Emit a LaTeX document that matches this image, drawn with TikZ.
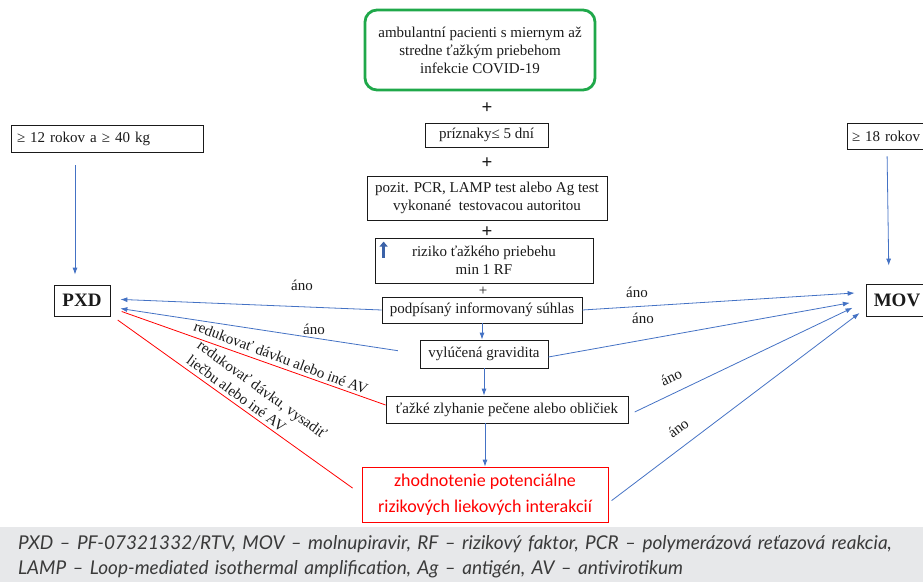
\documentclass[tikz,border=0pt]{standalone}
\usepackage{fontspec}
\setmainfont{Liberation Serif}
\newfontfamily\calibri{Carlito}
\newfontfamily\keyfont{Lato}
\usetikzlibrary{
  arrows.meta,
  positioning
}
\definecolor{flowInk}{HTML}{1A1A1A}
\definecolor{flowGreen}{HTML}{1FA84A}
\definecolor{flowBlue}{HTML}{4472C4}
\definecolor{flowNavy}{HTML}{3B62A8}
\definecolor{flowRed}{HTML}{FF0000}
\definecolor{flowBand}{HTML}{E7E8EA}
\definecolor{flowNote}{HTML}{3A3A3A}
\tikzset{
  every node/.style={font=\fontsize{15}{18}\selectfont, text=flowInk},
  flowbox/.style={
    draw=flowInk,
    line width=0.8pt,
    inner sep=2pt,
    align=center
  },
  entry/.style={
    flowbox,
    draw=flowGreen,
    line width=2.8pt,
    rounded corners=12pt
  },
  drug/.style={
    flowbox,
    font=\fontsize{19}{22}\selectfont\bfseries
  },
  review/.style={
    flowbox,
    draw=flowRed,
    text=flowRed,
    font=\calibri\fontsize{18}{26}\selectfont
  },
  plus/.style={font=\fontsize{19}{19}\selectfont\bfseries, inner sep=0pt},
  yes/.style={inner sep=0pt},
  warn/.style={inner sep=0pt, align=left},
  note/.style={
    fill=flowBand,
    text=flowNote,
    align=left,
    font=\keyfont\itshape\fontsize{19}{25}\selectfont
  },
  link/.style={
    -{Latex[length=7pt,width=5pt]},
    line width=0.8pt,
    draw=flowBlue
  },
  redlink/.style={
    line width=0.8pt,
    draw=flowRed
  }
}

\begin{document}
\begin{tikzpicture}[x=1pt,y=-1pt]
  \useasboundingbox (0,0) rectangle (923,581);
  \clip (0,0) rectangle (923,581);

  % central column
  \node[entry, minimum width=230pt, minimum height=80pt] (pat) at (480,50)
    {ambulantní pacienti s miernym až\\stredne ťažkým priebehom\\infekcie COVID-19};
  \node[plus] (p1) at (487,108) {+};
  \node[flowbox, minimum width=123pt, minimum height=24pt] (sym) at (486.5,135) {príznaky≤ 5 dní};
  \node[plus] (p2) at (487,163) {+};
  \node[flowbox, minimum width=240pt, minimum height=44pt] (test) at (487,198)
    {pozit. PCR, LAMP test alebo Ag test\\ vykonané\ \ testovacou autoritou};
  \node[plus] (p3) at (487,232) {+};
  \node[flowbox, minimum width=218pt, minimum height=45pt] (risk) at (484,260.5)
    {riziko ťažkého priebehu\\min 1 RF};
  \draw[flowNavy, line width=3pt, -{Triangle[length=5pt,width=8pt]}]
    ([xshift=9pt,yshift=-20pt]risk.north west) -- ++(0,-16);
  \node[plus, font=\fontsize{15}{15}\selectfont] (p4) at (483,291) {+};
  \node[flowbox, minimum width=200pt, minimum height=26pt] (consent) at (482,310) {podpísaný informovaný súhlas};
  \node[flowbox, minimum width=128pt, minimum height=28pt] (preg) at (484,354) {vylúčená gravidita};
  \node[flowbox, minimum width=242pt, minimum height=27pt] (organ) at (507,409.5) {ťažké zlyhanie pečene alebo obličiek};
  \node[review, minimum width=246pt, minimum height=55pt] (ddi) at (485,494.5)
    {zhodnotenie potenciálne\\rizikových liekových interakcií};

  % drugs
  \node[flowbox, minimum width=192pt, minimum height=27pt, text width=180pt, align=left] (age12) at (107,138.5) {≥ 12 rokov a ≥ 40 kg};
  \node[flowbox, minimum width=90pt, minimum height=26pt, text width=80pt, align=left] (age18) at (892,136) {≥ 18 rokov};
  \node[drug, minimum width=56pt, minimum height=31pt] (pxd) at (82,300.5) {PXD};
  \node[drug, minimum width=62pt, minimum height=32pt] (mov) at (897,300) {MOV};

  \draw[link, shorten <=13pt, shorten >=10pt] ([xshift=-32pt]age12.south) -- ([xshift=-7pt]pxd.north);
  \draw[link, shorten <=7pt, shorten >=18pt] ([xshift=-5pt]age18.south) -- ([xshift=-8pt]mov.north);

  \draw[link] (consent.south) -- (consent.south |- preg.north);
  \draw[link] (preg.south) -- (preg.south |- organ.north);
  \draw[link] (ddi.north |- organ.south) -- (ddi.north);

  % to PXD
  \draw[link, shorten >=10pt] (consent.west) -- ([yshift=1.5pt]pxd.east);
  \draw[link, shorten <=22pt, shorten >=10pt] (preg.west) -- ([yshift=-6.5pt]pxd.east);
  \draw[redlink, shorten >=12pt] ([yshift=4.5pt]organ.west) -- ([yshift=-7pt]pxd.east);
  \draw[redlink, shorten <=11pt, shorten >=9pt] (ddi.west) -- ([yshift=-14.3pt]pxd.east);

  % to MOV
  \draw[link, shorten >=11pt] (consent.east) -- ([yshift=7.7pt]mov.west);
  \draw[link, shorten >=16pt] ([yshift=-3pt]preg.east) -- (mov.west);
  \draw[link, shorten <=7pt, shorten >=14.5pt] ([yshift=-5.5pt]organ.east) -- ([yshift=-1.5pt]mov.west);
  \draw[link, shorten <=4pt, shorten >=7.6pt] ([yshift=-8.5pt]ddi.east) -- ([yshift=-8.4pt]mov.west);

  % labels
  \node[yes] (y1) at (302,285) {áno};
  \node[yes] (y2) at (314,329) {áno};
  \node[yes] (y3) at (637,292) {áno};
  \node[yes] (y4) at (643,318) {áno};
  \node[yes, rotate=26] (y5) at (671,377) {áno};
  \node[yes, rotate=37.5] (y6) at (678,428) {áno};
  \node[warn, rotate=-20.5] (w1) at (281,357.5) {redukovať dávku alebo iné AV};
  \node[warn, rotate=-36, font=\fontsize{15}{18.5}\selectfont] (w2) at (257,397)
    {redukovať dávku, vysadiť\\liečbu alebo iné AV};

  % abbreviations
  \node[note, anchor=north west, minimum width=923pt, minimum height=60pt,
        text width=887pt, inner xsep=18pt] (key) at (0,527)
    {PXD – PF-07321332/RTV, MOV – molnupiravir, RF – rizikový faktor, PCR – polymerázová reťazová reakcia,\\
     LAMP – Loop-mediated isothermal amplification, Ag – antigén, AV – antivirotikum};
\end{tikzpicture}
\end{document}
